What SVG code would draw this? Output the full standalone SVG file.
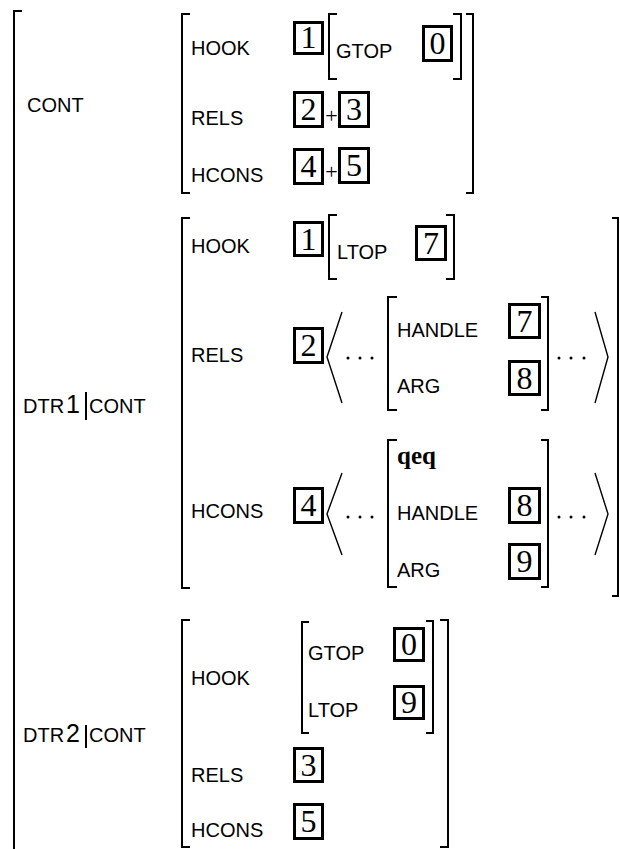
<svg xmlns="http://www.w3.org/2000/svg" width="620" height="849" viewBox="0 0 620 849">
<style>
.br{fill:none;stroke:#000;stroke-width:2}
.ang{fill:none;stroke:#000;stroke-width:1.4}
.box{fill:none;stroke:#000;stroke-width:3}
.lb{font-family:"Liberation Sans",Arial,sans-serif;font-size:20px;fill:#000}
.big{font-family:"Liberation Sans",Arial,sans-serif;font-size:25px;fill:#000}
.num{font-family:"Liberation Serif","Times New Roman",serif;font-size:32px;fill:#000;text-anchor:middle}
.pl{font-family:"Liberation Serif","Times New Roman",serif;font-size:22px;fill:#000;text-anchor:middle}
.qeq{font-family:"Liberation Serif","Times New Roman",serif;font-size:25px;font-weight:bold;fill:#000}
.dot{fill:#000}
</style>
<rect width="620" height="849" fill="#fff"/>

<g id="outer">
<path class="br" d="M22,11 H14 V849"/>
</g>

<g id="cont">
<text class="lb" x="27" y="112">CONT</text>
<path class="br" d="M190,14 H182 V193 H190"/>
<path class="br" d="M466,14 H473 V193 H466"/>
<text class="lb" x="191" y="55">HOOK</text>
<text class="lb" x="191" y="125">RELS</text>
<text class="lb" x="191" y="182">HCONS</text>
<rect class="box" x="294.5" y="22.5" width="28" height="31"/><text class="num" x="308.5" y="48">1</text>
<path class="br" d="M337,14 H329 V79 H337"/>
<path class="br" d="M453,14 H461 V79 H453"/>
<text class="lb" x="336" y="58">GTOP</text>
<rect class="box" x="423.5" y="26.5" width="28" height="34"/><text class="num" x="437.5" y="54">0</text>
<rect class="box" x="294.5" y="92.5" width="28" height="34"/><text class="num" x="308.5" y="120">2</text>
<text class="pl" x="331.5" y="123">+</text>
<rect class="box" x="339.5" y="92.5" width="29" height="34"/><text class="num" x="354" y="120">3</text>
<rect class="box" x="294.5" y="149.5" width="28" height="34"/><text class="num" x="308.5" y="177">4</text>
<text class="pl" x="331.5" y="179">+</text>
<rect class="box" x="339.5" y="148.5" width="29" height="34"/><text class="num" x="354" y="176">5</text>
</g>

<g id="dtr1">
<text class="lb" x="23" y="413">DTR</text>
<text class="big" x="66" y="413">1</text>
<path class="br" d="M86,392 V420"/>
<text class="lb" x="89" y="413">CONT</text>
<path class="br" d="M190,218 H182 V588 H190"/>
<path class="br" d="M612,218 H618 V596 H612"/>
<text class="lb" x="191" y="253">HOOK</text>
<rect class="box" x="294.5" y="222.5" width="28" height="33"/><text class="num" x="308.5" y="250">1</text>
<path class="br" d="M337,215 H329 V279 H337"/>
<path class="br" d="M446,215 H454 V279 H446"/>
<text class="lb" x="337" y="259">LTOP</text>
<rect class="box" x="416.5" y="226.5" width="29" height="33"/><text class="num" x="431" y="254">7</text>

<text class="lb" x="191" y="362">RELS</text>
<rect class="box" x="294.5" y="328.5" width="28" height="34"/><text class="num" x="308.5" y="356">2</text>
<polyline class="ang" points="342,312 327,357 342,403"/>
<circle class="dot" cx="348" cy="358" r="1.5"/><circle class="dot" cx="360" cy="358" r="1.5"/><circle class="dot" cx="372" cy="358" r="1.5"/>
<path class="br" d="M397,297 H388 V410 H397"/>
<path class="br" d="M541,297 H548 V410 H541"/>
<text class="lb" x="397" y="337">HANDLE</text>
<rect class="box" x="509.5" y="304.5" width="30" height="33"/><text class="num" x="524.5" y="332">7</text>
<text class="lb" x="397" y="393">ARG</text>
<rect class="box" x="509.5" y="361.5" width="30" height="33"/><text class="num" x="524.5" y="389">8</text>
<circle class="dot" cx="559" cy="358" r="1.5"/><circle class="dot" cx="571" cy="358" r="1.5"/><circle class="dot" cx="584" cy="358" r="1.5"/>
<polyline class="ang" points="595,312 608,357 595,403"/>

<text class="lb" x="191" y="518">HCONS</text>
<rect class="box" x="294.5" y="488.5" width="28" height="34"/><text class="num" x="308.5" y="516">4</text>
<polyline class="ang" points="342,473 327,514 342,555"/>
<circle class="dot" cx="348" cy="517" r="1.5"/><circle class="dot" cx="360" cy="517" r="1.5"/><circle class="dot" cx="372" cy="517" r="1.5"/>
<path class="br" d="M397,440 H388 V587 H397"/>
<path class="br" d="M541,440 H548 V587 H541"/>
<text class="qeq" x="397" y="464">qeq</text>
<text class="lb" x="397" y="520">HANDLE</text>
<rect class="box" x="509.5" y="488.5" width="30" height="34"/><text class="num" x="524.5" y="516">8</text>
<text class="lb" x="397" y="577">ARG</text>
<rect class="box" x="509.5" y="544.5" width="30" height="34"/><text class="num" x="524.5" y="572">9</text>
<circle class="dot" cx="559" cy="517" r="1.5"/><circle class="dot" cx="571" cy="517" r="1.5"/><circle class="dot" cx="584" cy="517" r="1.5"/>
<polyline class="ang" points="595,473 608,514 595,555"/>
</g>

<g id="dtr2">
<text class="lb" x="23" y="742">DTR</text>
<text class="big" x="66" y="742">2</text>
<path class="br" d="M86,725 V748"/>
<text class="lb" x="89" y="742">CONT</text>
<path class="br" d="M190,620 H182 V847 H190"/>
<path class="br" d="M440,620 H448 V847 H440"/>
<text class="lb" x="191" y="685">HOOK</text>
<path class="br" d="M309,622 H302 V733 H309"/>
<path class="br" d="M426,621 H433 V733 H426"/>
<text class="lb" x="308" y="660">GTOP</text>
<rect class="box" x="394.5" y="628.5" width="29" height="32"/><text class="num" x="409" y="655">0</text>
<text class="lb" x="308" y="717">LTOP</text>
<rect class="box" x="394.5" y="686.5" width="29" height="32"/><text class="num" x="409" y="713">9</text>
<text class="lb" x="191" y="782">RELS</text>
<rect class="box" x="294.5" y="748.5" width="28" height="33"/><text class="num" x="308.5" y="776">3</text>
<text class="lb" x="191" y="837">HCONS</text>
<rect class="box" x="294.5" y="804.5" width="28" height="34"/><text class="num" x="308.5" y="832">5</text>
</g>
</svg>
